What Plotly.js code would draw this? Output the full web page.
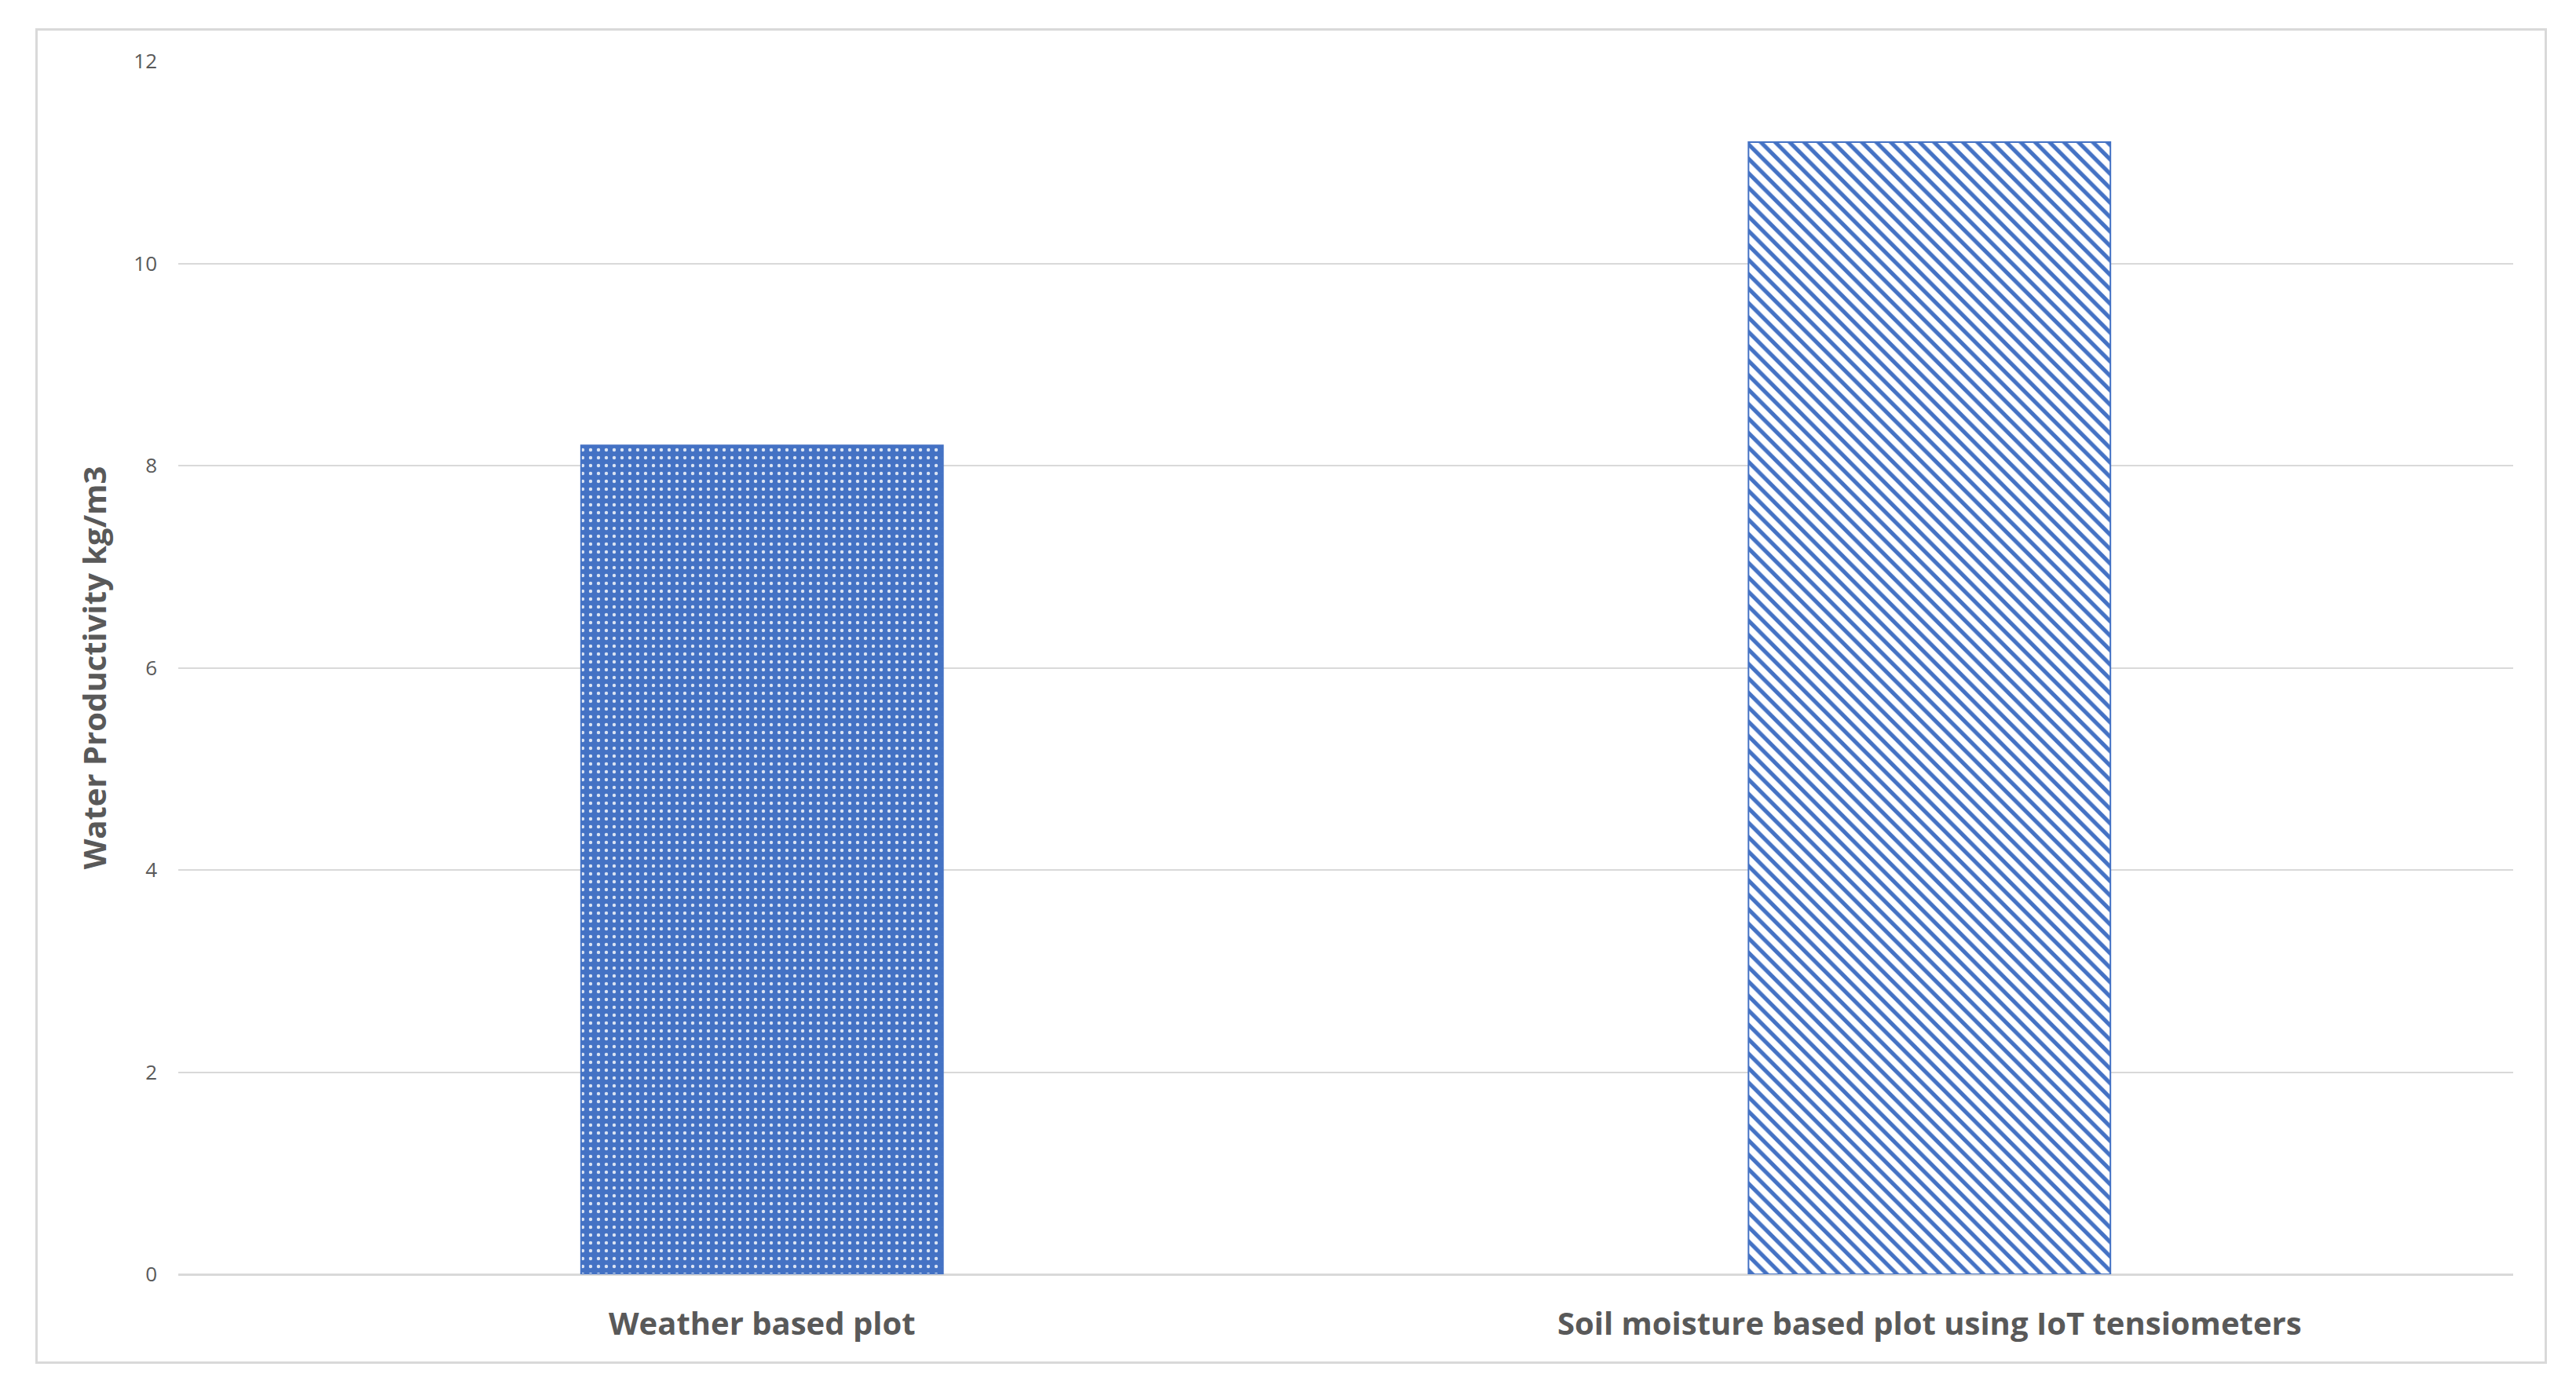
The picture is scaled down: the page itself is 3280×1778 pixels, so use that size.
<!DOCTYPE html>
<html>
<head>
<meta charset="utf-8">
<script src="https://cdn.plot.ly/plotly-3.0.1.min.js"></script>
<style>
  html, body { margin: 0; padding: 0; background: #fff; }
  #frame { position: absolute; left: 45px; top: 36px; width: 3192px; height: 1695px; border: 3px solid #d9d9d9; }
  #plot { width: 100%; height: 100%; }
</style>
</head>
<body>
<div id="frame"><div id="plot"></div></div>
<script>
var categories = ["Weather based plot", "Soil moisture based plot using IoT tensiometers"];
var productivity = [8.2, 11.2];
var yTicks = [0, 2, 4, 6, 8, 10, 12];

var weather = {
  x: [categories[0]],
  y: [productivity[0]],
  type: "bar",
  width: 0.31,
  marker: {
    color: "#4472C4",
    line: {color: "#4472C4", width: 2},
    pattern: {shape: ".", fgcolor: "#ffffff", bgcolor: "#4472C4", size: 10, solidity: 0.15, fgopacity: 0.8}
  },
  hoverinfo: "x+y"
};

var soil = {
  x: [categories[1]],
  y: [productivity[1]],
  type: "bar",
  width: 0.31,
  marker: {
    color: "#ffffff",
    line: {color: "#4472C4", width: 2},
    pattern: {shape: "\\", fgcolor: "#4472C4", bgcolor: "#ffffff", size: 13, solidity: 0.4}
  },
  hoverinfo: "x+y"
};

var layout = {
  showlegend: false,
  barmode: "overlay",
  paper_bgcolor: "#ffffff",
  plot_bgcolor: "#ffffff",
  margin: {l: 179, r: 40, t: 39, b: 111},
  font: {family: "Open Sans, sans-serif", color: "#595959"},
  xaxis: {
    type: "category",
    categoryorder: "array",
    categoryarray: categories,
    showgrid: false,
    showline: false,
    zeroline: false,
    ticks: "",
    ticklabelstandoff: 36,
    tickfont: {size: 40, color: "#595959", family: "Open Sans, sans-serif", weight: "bold"}
  },
  yaxis: {
    title: {text: "Water Productivity kg/m3", font: {size: 40, color: "#595959", family: "Open Sans, sans-serif", weight: "bold"}, standoff: 22},
    range: [0, 12],
    tickmode: "array",
    tickvals: yTicks,
    showgrid: true,
    gridcolor: "#d9d9d9",
    gridwidth: 2,
    zeroline: true,
    zerolinecolor: "#d9d9d9",
    zerolinewidth: 3,
    showline: false,
    ticks: "",
    ticklabelstandoff: 26,
    tickfont: {size: 26, color: "#595959"}
  }
};

Plotly.newPlot("plot", [weather, soil], layout, {displayModeBar: false, responsive: true});
</script>
</body>
</html>
